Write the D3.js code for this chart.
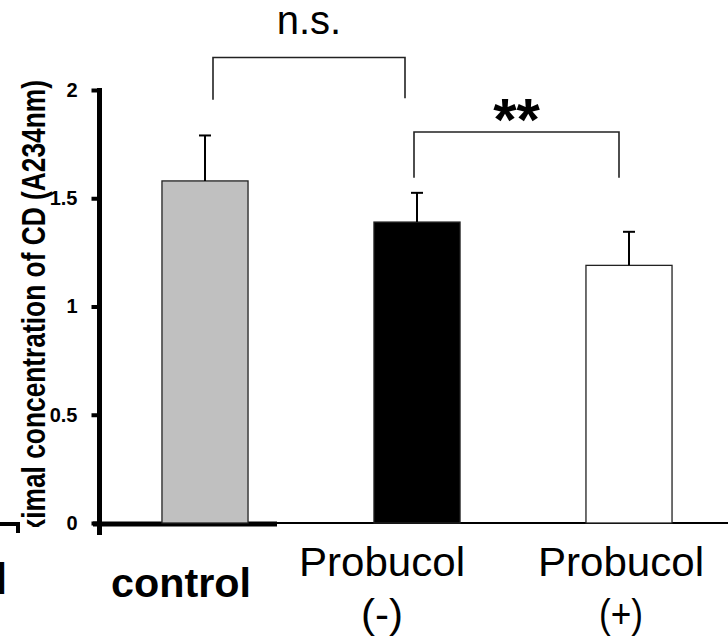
<!DOCTYPE html>
<html>
<head>
<meta charset="utf-8">
<script src="https://cdn.jsdelivr.net/npm/d3@7"></script>
<style>
  body { margin: 0; background: #fff; }
  svg { display: block; font-family: "Liberation Sans", Arial, sans-serif; }
  .y-axis .tick text { font-size: 20px; font-weight: bold; fill: #000; }
</style>
</head>
<body>
<svg width="728" height="640"></svg>
<script>
// data
const groups = ["control", "Probucol (-)", "Probucol (+)"]
const labelLines = [["control"], ["Probucol", "(-)"], ["Probucol", "(+)"]]
const means = [1.58, 1.39, 1.19]
const errors = [0.21, 0.135, 0.155]
const fills = ["#c0c0c0", "#000000", "#ffffff"]
const yTicks = [0, 0.5, 1, 1.5, 2]
const yLabel = "Maximal concentration of CD (A234nm)"
// significance brackets: [from, to, bar height, left leg end, right leg end, text]
const brackets = [
  [0, 1, 2.15, 1.955, 1.962, "n.s."],
  [1, 2, 1.806, 1.595, 1.595, "**"]
]

const svg = d3.select("svg")

const y = d3.scaleLinear().domain([0, 2]).range([523, 90])
const x = d3.scaleBand()
  .domain(groups)
  .range([99, 735])
  .paddingInner(0.594)
  .paddingOuter(0.297)

const cx = (i) => x(groups[i]) + x.bandwidth() / 2

// the y label is cropped at the bottom in the original figure
svg.append("clipPath").attr("id", "ylab-clip")
  .append("rect").attr("x", 0).attr("y", 0).attr("width", 100).attr("height", 527)

svg.append("g")
  .attr("clip-path", "url(#ylab-clip)")
  .append("text")
  .attr("transform", "translate(45,80) rotate(-90)")
  .attr("text-anchor", "end")
  .style("font-size", "33px")
  .attr("font-weight", "bold")
  .attr("textLength", 490)
  .attr("lengthAdjust", "spacingAndGlyphs")
  .text(yLabel)

// fragments of the neighbouring panel at the left edge
svg.append("path")
  .attr("d", "M0,524H18V533")
  .attr("fill", "none")
  .attr("stroke", "#000")
  .attr("stroke-width", 4)
svg.append("text")
  .attr("x", -5).attr("y", 594)
  .style("font-size", "44px").attr("font-weight", "bold")
  .text("l")

// x axis: thin baseline across, thick part near the y axis
const xAxis = svg.append("g")
  .attr("transform", `translate(0,${y(0)})`)
  .call(d3.axisBottom(x).tickSize(0).tickSizeOuter(0).tickFormat(""))
xAxis.select(".domain")
  .attr("d", `M${x.range()[0]},0H728`)
  .attr("stroke-width", 2)
svg.append("line")
  .attr("x1", 93).attr("x2", 277)
  .attr("y1", y(0) + 1).attr("y2", y(0) + 1)
  .attr("stroke", "#000").attr("stroke-width", 5)

// bars
svg.append("g").selectAll("rect")
  .data(means)
  .join("rect")
  .attr("x", (d, i) => cx(i) - x.bandwidth() / 2)
  .attr("y", (d) => y(d))
  .attr("width", x.bandwidth())
  .attr("height", (d) => y(0) - y(d))
  .attr("fill", (d, i) => fills[i])
  .attr("stroke", "#222")
  .attr("stroke-width", 1.3)

// error bars (upper only)
const err = svg.append("g").attr("stroke", "#000").attr("stroke-width", 2)
err.selectAll(".stem")
  .data(means)
  .join("line")
  .attr("class", "stem")
  .attr("x1", (d, i) => cx(i)).attr("x2", (d, i) => cx(i))
  .attr("y1", (d) => y(d))
  .attr("y2", (d, i) => y(d + errors[i]))
err.selectAll(".cap")
  .data(means)
  .join("line")
  .attr("class", "cap")
  .attr("x1", (d, i) => cx(i) - 6).attr("x2", (d, i) => cx(i) + 6)
  .attr("y1", (d, i) => y(d + errors[i]))
  .attr("y2", (d, i) => y(d + errors[i]))

// y axis
const yAxis = svg.append("g")
  .attr("class", "y-axis")
  .attr("transform", "translate(99.5,0)")
  .call(d3.axisLeft(y).tickValues(yTicks).tickSize(8).tickSizeOuter(0).tickPadding(14).tickFormat((d) => d))
yAxis.attr("font-size", null).attr("font-family", null)
yAxis.select(".domain")
  .attr("d", `M0,${y(2) - 2}V${y(0) + 12}`)
  .attr("stroke-width", 5)
yAxis.selectAll(".tick line").attr("stroke-width", 4)

// category labels
const labelShift = [-24, -35, -8]
const labelStyle = [
  { weight: "bold", size: 40, len: [140] },
  { weight: "normal", size: 40, len: [166, 42] },
  { weight: "normal", size: 40, len: [166, 44] }
]
labelLines.forEach((lines, i) => {
  const t = svg.append("text")
    .attr("text-anchor", "middle")
    .style("font-size", labelStyle[i].size + "px")
    .attr("font-weight", labelStyle[i].weight)
  lines.forEach((line, j) => {
    t.append("tspan")
      .attr("x", cx(i) + labelShift[i])
      .attr("y", lines.length === 1 ? 597 : 576 + j * 52)
      .attr("textLength", labelStyle[i].len[j])
      .attr("lengthAdjust", "spacingAndGlyphs")
      .text(line)
  })
})

// significance brackets
const legNudge = [[8, -12], [-3, -10]]
brackets.forEach((b, i) => {
  const x1 = cx(b[0]) + legNudge[i][0]
  const x2 = cx(b[1]) + legNudge[i][1]
  svg.append("path")
    .attr("d", `M${x1},${y(b[3])}V${y(b[2])}H${x2}V${y(b[4])}`)
    .attr("fill", "none")
    .attr("stroke", "#222")
    .attr("stroke-width", 1.6)
  svg.append("text")
    .attr("x", (x1 + x2) / 2)
    .attr("y", i === 0 ? y(b[2]) - 24 : y(b[2]) + 8)
    .attr("text-anchor", "middle")
    .style("font-size", (i === 0 ? 40 : 60) + "px")
    .attr("font-weight", i === 0 ? "normal" : "bold")
    .text(b[5])
})
</script>
</body>
</html>
